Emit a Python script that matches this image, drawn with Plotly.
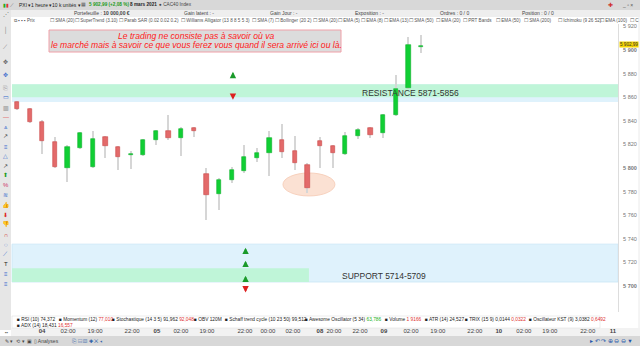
import plotly.graph_objects as go

# ---------------- data ----------------
candle_idx = list(range(33))
opens = [5856, 5850, 5839, 5822, 5800, 5817, 5801, 5826.3, 5817.8, 5811, 5811, 5823.7, 5831.4, 5825.4, 5833.9,
         5794.9, 5778, 5789.8, 5797.5, 5808.5, 5812.7, 5823.7, 5814.4, 5802.5, 5822.9, 5818.6, 5811.9, 5827.1,
         5833.9, 5829.7, 5844.9, 5867.8, 5902.5]
highs = [5857, 5851, 5840.7, 5826.3, 5819.5, 5830.5, 5831.4, 5827, 5818.5, 5814.4, 5824.5, 5832, 5844.9, 5834.7,
         5834.5, 5800, 5791.5, 5800.8, 5819.5, 5816.9, 5831.4, 5837.3, 5827.1, 5804.2, 5826.3, 5819.5, 5830.5,
         5833.9, 5834.7, 5846, 5878.8, 5911, 5912.7]
lows = [5849, 5838, 5812, 5800, 5788, 5816, 5800, 5808.5, 5798.3, 5799.2, 5810.5, 5819.5, 5823.7, 5810.2, 5826.3,
        5755.9, 5764.4, 5787, 5796, 5805, 5793.6, 5808.5, 5798.3, 5778.8, 5800, 5800, 5811, 5824.6, 5825.4,
        5825.4, 5844, 5867, 5897.5]
closes = [5850, 5839, 5823, 5801, 5818, 5829.7, 5824.6, 5818.6, 5809.3, 5811.9, 5823.7, 5831.4, 5825.4, 5833.1,
          5831.4, 5777.1, 5789.8, 5798.3, 5809.3, 5812.7, 5825.4, 5813.6, 5804.2, 5783, 5818.6, 5812.7, 5827.1,
          5832.2, 5828, 5844.9, 5867, 5904.2, 5902.99]

last_price = 5902.99
last_price_label = "5 902,99"

x_tick_vals = [1.98, 4.04, 6.18, 9.11, 11.08, 12.98, 15.04, 18.05, 19.87, 21.85, 23.99, 25.1, 27.16, 29.06,
               31.2, 33.33, 36.26, 38.16, 40.14, 42.2, 45.2, 47.19]
x_tick_text = ["<b>04</b>", "02:00", "19:00", "22:00", "<b>05</b>", "02:00", "19:00", "22:00", "00:00", "02:00",
               "<b>08</b>", "20:00", "22:00", "<b>09</b>", "02:00", "19:00", "22:00", "<b>10</b>", "02:00",
               "19:00", "22:00", "<b>11</b>"]
y_tick_vals = list(range(5700, 5921, 20))
y_tick_text = [("<b>5 %03d</b>" if v % 100 == 0 else "5 %03d") % (v - 5000) for v in y_tick_vals]

resistance = (5871, 5860, 5856)
support = (5735.5, 5715, 5703.4)
resistance_label = "RESISTANCE 5871-5856"
support_label = "SUPPORT 5714-5709"
quote_lines = ["Le trading ne consiste pas à savoir où va",
               "le marché mais à savoir ce que vous ferez vous quand il sera arrivé ici ou là."]

# ---------------- figure ----------------
W, H = 640, 346
L, R, T, B = 12, 22, 24, 34
PW, PH = W - L - R, H - T - B


def pxx(x):
    return (x - L) / PW


def pxy(y):
    return (H - B - y) / PH


FONT = "Liberation Sans, Arial, sans-serif"
RED, GREEN = "#e36a6a", "#10cf34"
RED_L, GREEN_L = "#c94848", "#0bb02a"

fig = go.Figure()

# wicks
fig.add_trace(go.Bar(x=candle_idx, y=[h - l for h, l in zip(highs, lows)], base=lows, width=0.09,
                     marker=dict(color="#d6d6d6", line=dict(width=0)), hoverinfo="skip", showlegend=False))
# bodies
up = [c >= o for o, c in zip(opens, closes)]
fig.add_trace(go.Bar(x=candle_idx,
                     y=[max(abs(c - o), 0.9) for o, c in zip(opens, closes)],
                     base=[min(o, c) for o, c in zip(opens, closes)],
                     width=0.33,
                     marker=dict(color=[GREEN if u else RED for u in up],
                                 line=dict(width=0.6, color=[GREEN_L if u else RED_L for u in up])),
                     showlegend=False))

shapes = []


def chrome(x0, x1, y0, y1, fill, line=None):
    shapes.append(dict(type="rect", xref="paper", yref="paper", x0=pxx(x0), x1=pxx(x1), y0=pxy(y1), y1=pxy(y0),
                       fillcolor=fill, line=line or dict(width=0), layer="below"))


chrome(0, 640, 0, 10, "#d8d8d8")
chrome(0, 640, 10, 17, "#eeeeee")
chrome(0, 11, 10, 330, "#e6e6e6")
chrome(11, 640, 328, 336, "#f2f2f2")
chrome(0, 640, 336, 346, "#d8d8d8")
chrome(12, 600, 316, 328, "rgba(0,0,0,0)", dict(width=0.6, color="#e0e0e0"))
shapes.append(dict(type="line", xref="paper", yref="paper", x0=pxx(639), x1=pxx(639), y0=pxy(328), y1=pxy(17),
                   line=dict(width=0.8, color="#e4e4e4"), layer="below"))

# resistance bands
shapes.append(dict(type="rect", xref="paper", yref="y", x0=0, x1=1, y0=resistance[2], y1=resistance[0],
                   fillcolor="#dff2fc", line=dict(width=0), layer="below"))
shapes.append(dict(type="rect", xref="paper", yref="y", x0=0, x1=1, y0=resistance[1], y1=resistance[0],
                   fillcolor="#bff5d8", line=dict(width=0), layer="below"))
# support bands
shapes.append(dict(type="rect", xref="paper", yref="y", x0=0, x1=1, y0=support[2], y1=support[0],
                   fillcolor="#dff2fc", line=dict(width=0.8, color="#c9e6f6"), layer="below"))
shapes.append(dict(type="rect", xref="x", yref="y", x0=-0.4, x1=23.12, y0=support[2], y1=support[1],
                   fillcolor="#bff5d8", line=dict(width=0), layer="below"))
# ellipse
shapes.append(dict(type="circle", xref="x", yref="y", x0=21.06, x1=25.18, y0=5776.3, y1=5795.8,
                   fillcolor="#fbe1d3", line=dict(width=0.8, color="#f5c9b2"), layer="below"))

# quote box
shapes.append(dict(type="rect", xref="paper", yref="paper", x0=pxx(49), x1=pxx(341), y0=pxy(52), y1=pxy(30),
                   fillcolor="#dcdcdc", line=dict(width=1, color="#f0a0a8")))

ann = []


def txt(x, y, s, size=5.5, color="#333", anchor="left", **kw):
    ann.append(dict(xref="paper", yref="paper", x=pxx(x), y=pxy(y), text=s, showarrow=False,
                    xanchor=anchor, yanchor="middle", font=dict(size=size, color=color, family=FONT), **kw))


# quote
txt(196, 36, "<i>" + quote_lines[0] + "</i>", size=8.6, color="#ff2020", anchor="center")
txt(196, 45, "<i>" + quote_lines[1] + "</i>", size=8.6, color="#ff2020", anchor="center")

# band labels
txt(410, 93, resistance_label, size=8.5, color="#333", anchor="center")
txt(384, 276, support_label, size=8.5, color="#333", anchor="center")

# header row 1
txt(1, 5, "<span style='color:#22aa22'>▮</span><span style='color:#dd3333'>▮</span>", 5, "#333")
txt(8, 5, "⟋", 5, "#666")
txt(17, 5, "PXI ▾", 5, "#222")
txt(29, 5, "1 heure ▾", 5, "#222")
txt(50, 5, "10 k unités ▾", 5, "#222")
txt(79, 5, "▦", 4.5, "#555")
txt(87, 5, "<b>5 902,99 (+2,08 %)</b>", 4.7, "#1a9a1a")
txt(128, 5, "<b>8 mars 2021</b>", 4.7, "#222")
txt(157, 5, "● CAC40 Index", 4.7, "#444")
txt(606, 5, "✚", 5.5, "#d03030")
txt(620, 5, "_ ▫ ×", 5, "#555")
# header row 2
txt(72, 13, "Portefeuille : <b>10 000,00 €</b>", 5, "#444")
txt(182, 13, "Gain latent : -", 5, "#444")
txt(268, 13, "Gain Jour : -", 5, "#444")
txt(353, 13, "Exposition : -", 5, "#444")
txt(438, 13, "Ordres : 0 / 0", 5, "#444")
txt(520, 13, "Position : 0 / 0", 5, "#444")
# header row 3 (indicator checkboxes)
row3 = [(12, "⧉ ▪ ▪ ▪ Prix"), (48, "☐ SMA (20)"), (73, "☐ SuperTrend (3.10)"), (117, "☐ Parab SAR (0.02 0.02 0.2)"),
        (179, "☐ Williams Alligator (13 8 8 5 5 3)"), (250, "☐ SMA (7)"), (273, "☐ Bollinger (20 2)"),
        (311, "☐ SMA (20)"), (336, "☐ EMA (5)"), (359, "☐ EMA (8)"), (382, "☐ EMA (13)"), (407, "☐ SMA (50)"),
        (434, "☐ EMA (20)"), (461, "☐ PRT Bands"), (494, "☐ EMA (50)"), (522, "☐ SMA (200)"),
        (556, "☐ Ichimoku (9 26 52)"), (598, "☐ EMA (100)"), (628, "☐ C")]
for x, s in row3:
    txt(x, 20, s, 4.6, "#555")

# bottom indicators
ind = [(15, "■ RSI (10) 74,372"), (57, "■ Momentum (12) <span style='color:#e03030'>77,010</span>"),
       (110, "■ Stochastique (14 3 5) 91,962 <span style='color:#e03030'>92,048</span>"),
       (192, "■ OBV 120M"), (223, "■ Schaff trend cycle (10 23 50) 99,512"),
       (303, "■ Awesome Oscillator (5 34) <span style='color:#20b020'>63,786</span>"),
       (383, "■ Volume <span style='color:#e03030'>1 9166</span>"), (423, "■ ATR (14) 24,527"),
       (463, "■ TRIX (15 9) 0,0144 <span style='color:#e03030'>0,0322</span>"),
       (527, "■ Oscillateur KST (9) 3,0382 <span style='color:#e03030'>0,6492</span>")]
for x, s in ind:
    txt(x, 319, s, 4.8, "#222")
txt(15, 325, "■ ADX (14) 18,431 <span style='color:#e03030'>16,557</span>", 4.8, "#222")
txt(3, 332, "▪▪", 4.5, "#666")
txt(3, 341, "✎ ▾  ⟲ ▾  ▣ ▯ Analyses", 5, "#444")
txt(70, 341, "⎘ ▤ ▧ ✚ ✕ ◂", 5.5, "#3366aa")
txt(588, 341, "▸ ↶ ↷ ⊕ ⊖ ⊖ ▼", 5.5, "#2255aa")

# left toolbar glyphs
left_icons = [(14, "⋰", "#777"), (30, "│", "#777"), (47, "⟋", "#777"), (62, "✥", "#555"), (75, "✥", "#3366cc"),
              (88, "⎘", "#999"), (97, "▭", "#3366cc"), (108, "▥", "#777"), (117, "—", "#e04040"),
              (127, "⩓", "#3366cc"), (136, "↗", "#333"), (147, "≡", "#3366cc"), (156, "△", "#3366cc"),
              (166, "↗", "#333"), (175, "⬆", "#1a9a1a"), (185, "%", "#cc3366"), (195, "≋", "#3366cc"),
              (205, "👍", "#22aa22"), (215, "⬇", "#dd2222"), (224, "👎", "#dd2222"), (235, "∩", "#cc2222"),
              (245, "◌", "#3366cc"), (254, "⟋", "#3366cc"), (264, "T", "#222"), (274, "≡", "#3366cc"),
              (284, "≡", "#3366cc")]
for y, s, c in left_icons:
    txt(5.5, y, s, 6, c, anchor="center")


# arrows on chart
def arrow(x, y, color, up_dir):
    ann.append(dict(xref="x", yref="y", x=x, y=y, ax=0, ay=(6 if up_dir else -6), text="", showarrow=True,
                    arrowhead=2, arrowsize=0.8, arrowwidth=1.6, arrowcolor=color, standoff=0))


arrow(17.1, 5881.5, "#1a9a2a", True)
arrow(17.1, 5857.8, "#dd2020", False)
arrow(18.1, 5732.5, "#1a9a2a", True)
arrow(18.1, 5721.5, "#1a9a2a", True)
arrow(18.1, 5708.8, "#1a9a2a", True)
arrow(18.1, 5694.5, "#dd2020", False)

# last price tag
ann.append(dict(xref="paper", yref="y", x=1.0, y=last_price, text=last_price_label, showarrow=False,
                xanchor="left", yanchor="middle", xshift=1, yshift=2, bgcolor="#f5d400",
                font=dict(size=4.6, color="#333", family=FONT), borderpad=0))

fig.update_layout(
    width=W, height=H, margin=dict(l=L, r=R, t=T, b=B, autoexpand=False),
    paper_bgcolor="white", plot_bgcolor="white",
    barmode="overlay", bargap=0, showlegend=False,
    font=dict(family=FONT),
    shapes=shapes, annotations=ann,
    xaxis=dict(range=[-0.4, 47.6], tickvals=x_tick_vals, ticktext=x_tick_text, showgrid=False,
               zeroline=False, showline=False, ticks="", tickfont=dict(size=6, color="#444"),
               ticklabelstandoff=14, fixedrange=True, automargin=False),
    yaxis=dict(range=[5678, 5922], side="right", tickvals=y_tick_vals, ticktext=y_tick_text, showgrid=False,
               zeroline=False, showline=True, linecolor="#dddddd", linewidth=1, ticks="",
               tickfont=dict(size=5.5, color="#777"), ticklabelstandoff=3, fixedrange=True, automargin=False),
)

fig.write_html("out.html")
